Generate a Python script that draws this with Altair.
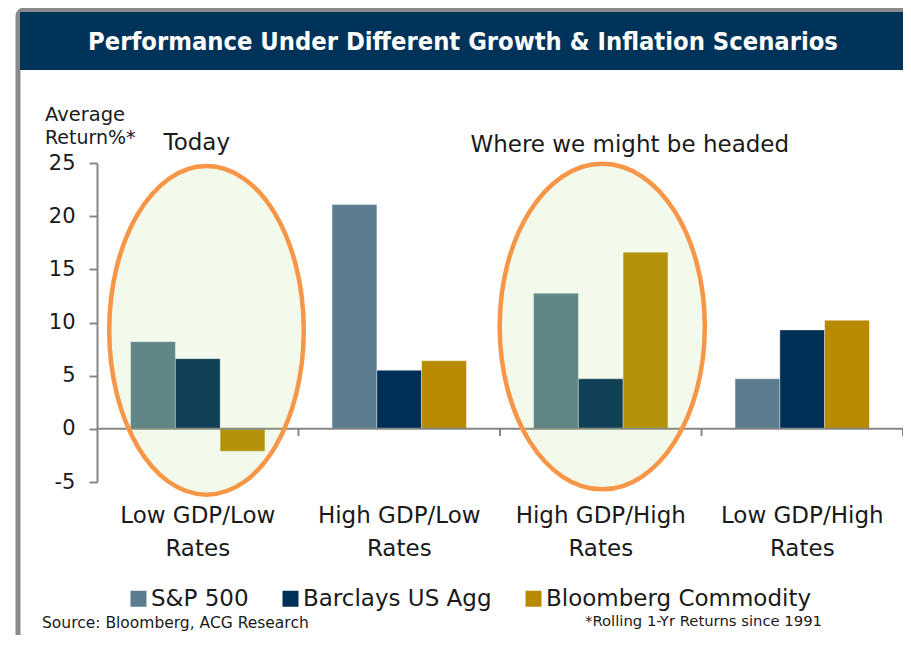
import altair as alt
import pandas as pd

categories = ["Low GDP/Low Rates", "High GDP/Low Rates", "High GDP/High Rates", "Low GDP/High Rates"]
series = ["S&P 500", "Barclays US Agg", "Bloomberg Commodity"]
sp500 = [8.2, 21.1, 12.75, 4.7]
barclays = [6.6, 5.5, 4.7, 9.3]
commodity = [-2.1, 6.4, 16.6, 10.2]
y_ticks = [-5, 0, 5, 10, 15, 20, 25]
colors = ["#5b7d8f", "#003057", "#b88a00"]

title_text = "Performance Under Different Growth & Inflation Scenarios"
source_text = "Source:  Bloomberg,  ACG Research"
note_text = "*Rolling 1-Yr Returns since 1991"

rows = []
for s, vals in zip(series, [sp500, barclays, commodity]):
    for c, v in zip(categories, vals):
        rows.append({"category": c, "series": s, "value": v})
df = pd.DataFrame(rows)

W, H = 806, 319
FONT = "DejaVu Sans"
TXT = "#1a1a1a"
AXC = "#868686"
one = pd.DataFrame({"k": [0]})

x_cat = alt.X(
    "category:N", sort=categories,
    scale=alt.Scale(paddingInner=0, paddingOuter=0),
    axis=alt.Axis(title=None, domain=False, ticks=False, labelAngle=0, zindex=2,
                  labelExpr="[replace(datum.label, ' Rates', ''), 'Rates']",
                  labelFontSize=23, labelLineHeight=33, labelPadding=22,
                  labelColor=TXT, labelFont=FONT),
)
y_val = alt.Y(
    "value:Q",
    scale=alt.Scale(domain=[-5, 25], nice=False, zero=False),
    axis=alt.Axis(title=None, values=y_ticks, grid=False, domainColor=AXC, domainWidth=2, zindex=2,
                  tickColor=AXC, tickWidth=2, tickSize=8, labelFontSize=21, labelPadding=14,
                  labelExpr="datum.value < 0 ? '-' + abs(datum.value) : datum.label",
                  labelColor=TXT, labelFont=FONT),
)

frame = alt.Chart(one).mark_rect(fill="white", fillOpacity=0, stroke="#8a8a8a", strokeWidth=5,
                                 cornerRadius=6).encode(
    x=alt.value(-79), x2=alt.value(811.5), y=alt.value(-153), y2=alt.value(495)
)
band = alt.Chart(one).mark_rect(fill="#003359").encode(
    x=alt.value(-77), x2=alt.value(809.5), y=alt.value(-151), y2=alt.value(-93)
)
title = alt.Chart(one).mark_text(font="DejaVu Sans Condensed", fontWeight="bold", fontSize=25.3,
                                 color="white", align="center", baseline="middle").encode(
    x=alt.value(366), y=alt.value(-121), text=alt.value(title_text)
)

bars = alt.Chart(df).mark_bar(stroke="white", strokeWidth=0.6, strokeOpacity=0.6).encode(
    x=x_cat,
    y=y_val,
    xOffset=alt.XOffset("series:N", sort=series, scale=alt.Scale(paddingInner=0, paddingOuter=0.75)),
    color=alt.Color("series:N", sort=series, scale=alt.Scale(domain=series, range=colors),
                    legend=alt.Legend(title=None, orient="none", direction="horizontal",
                                      legendX=30, legendY=424, symbolType="square", symbolSize=256,
                                      symbolStrokeWidth=0, symbolOpacity=1, labelFontSize=23,
                                      labelFont=FONT, labelColor=TXT, columnPadding=30,
                                      labelOffset=1, padding=0, labelLimit=500)),
)

zero = alt.Chart(one).mark_rule(color=AXC, strokeWidth=2).encode(
    y=alt.datum(0), x=alt.value(0), x2=alt.value(W)
)
ticks = alt.Chart(pd.DataFrame({"category": categories})).mark_rule(color=AXC, strokeWidth=2).encode(
    x=alt.X("category:N", sort=categories, bandPosition=1),
    y=alt.datum(0), y2=alt.datum(-0.68)
)

def ellipse_path(a):
    k = 0.5523
    ak = a * k
    return (f"M {a} 0 C {a} {k}, {ak} 1, 0 1 C {-ak} 1, {-a} {k}, {-a} 0 "
            f"C {-a} {-k}, {-ak} -1, 0 -1 C {ak} -1, {a} {-k}, {a} 0 Z")

def ellipse(cat, center, a, ry, dx):
    return alt.Chart(pd.DataFrame({"category": [cat], "center": [center]})).mark_point(
        shape=ellipse_path(a), size=(2 * ry) ** 2, filled=True, fill="#92d050", fillOpacity=0.11,
        stroke="#f79646", strokeWidth=4.5, strokeOpacity=1, opacity=1, xOffset=dx
    ).encode(x=alt.X("category:N", sort=categories), y=alt.Y("center:Q"))

ell1 = ellipse(categories[0], 9.26, 0.592, 164.3, 8.75)
ell2 = ellipse(categories[2], 9.62, 0.63, 162.8, 1.5)

def cat_note(cat, yv, label, dx):
    return alt.Chart(pd.DataFrame({"category": [cat], "yv": [yv], "label": [label]})).mark_text(
        font=FONT, fontSize=23, color=TXT, align="center", baseline="middle", dx=dx
    ).encode(x=alt.X("category:N", sort=categories), y=alt.Y("yv:Q"), text="label:N")

today = cat_note(categories[0], 26.9, "Today", -1)
headed = cat_note(categories[2], 26.7, "Where we might be headed", 29)

def free_text(txt, x, y, size, align="left", font=FONT):
    return alt.Chart(one).mark_text(font=font, fontSize=size, color=TXT, align=align,
                                    baseline="middle").encode(
        x=alt.value(x), y=alt.value(y), text=alt.value(txt))

avg1 = free_text("Average", -52, -48, 19.5)
avg2 = free_text("Return%*", -52, -25, 19)
src = free_text(source_text, -55, 460, 15.5)
note = free_text(note_text, 488, 459, 14.8)

chart = alt.layer(
    frame, band, title, bars, zero, ticks, ell1, ell2, today, headed, avg1, avg2, src, note
).properties(
    width=W, height=H, autosize="none",
    padding={"left": 89, "top": 155, "right": 0, "bottom": 153},
    background="white",
).configure_view(stroke=None)

chart.save("out.html", embed_options={"renderer": "svg", "actions": False})
